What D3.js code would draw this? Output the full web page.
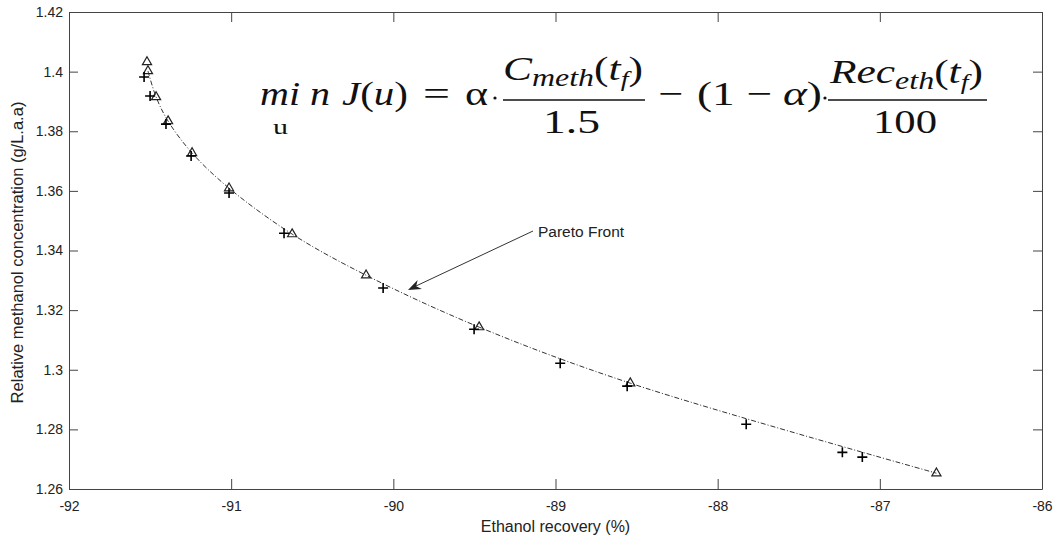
<!DOCTYPE html>
<html>
<head>
<meta charset="utf-8">
<script src="https://cdn.jsdelivr.net/npm/d3@7"></script>
<style>
  body { margin: 0; background: #fff; }
  svg { display: block; }
</style>
</head>
<body>
<svg id="chart" width="1054" height="542"></svg>
<script>
// values
const triX = [-91.519, -91.513, -91.463, -91.389, -91.241, -91.013, -90.624, -90.168, -89.471, -88.539, -86.651];
const triY = [1.4032, 1.4002, 1.3915, 1.3834, 1.3727, 1.3609, 1.3455, 1.3317, 1.3143, 1.2955, 1.2653];

const plusX = [-91.537, -91.5, -91.402, -91.247, -91.013, -90.674, -90.063, -89.502, -88.971, -88.558, -87.824, -87.231, -87.108];
const plusY = [1.3982, 1.3918, 1.3824, 1.3717, 1.3593, 1.3458, 1.3274, 1.3136, 1.3022, 1.2945, 1.2817, 1.2723, 1.2707];

// the dash-dot Pareto front as traced
const frontX = [-91.513, -91.463, -91.389, -91.241, -91.013, -90.624, -90.168, -89.471, -88.539, -86.651];
const frontY = [1.4002, 1.3915, 1.3834, 1.3727, 1.3609, 1.3455, 1.3317, 1.3143, 1.2955, 1.2653];

const xTicks = [-92, -91, -90, -89, -88, -87, -86];
const yTicks = [1.26, 1.28, 1.3, 1.32, 1.34, 1.36, 1.38, 1.4, 1.42];

const xLabel = "Ethanol recovery (%)";
const yLabel = "Relative methanol concentration (g/L.a.a)";
const noteText = "Pareto Front";

const svg = d3.select("#chart");
const mLeft = 69, mRight = 1042, mTop = 12, mBottom = 489;

const x = d3.scaleLinear().domain([-92, -86]).range([mLeft, mRight]);
const y = d3.scaleLinear().domain([1.26, 1.42]).range([mBottom, mTop]);

const axisColor = "#444";
const tickFont = "'Liberation Sans', Arial, sans-serif";

function styleAxis(g) {
  g.select(".domain").attr("stroke", axisColor).attr("stroke-width", 1);
  g.selectAll(".tick line").attr("stroke", axisColor).attr("stroke-width", 1);
  g.selectAll(".tick text")
    .attr("fill", "#222")
    .attr("font-family", tickFont)
    .attr("font-size", 14);
}

// axes, MATLAB style box with inward ticks
svg.append("g")
  .attr("transform", `translate(0,${mBottom})`)
  .call(d3.axisBottom(x).tickValues(xTicks).tickFormat((d) => String(d))
    .tickSizeInner(-10).tickSizeOuter(0).tickPadding(12))
  .call(styleAxis);

svg.append("g")
  .attr("transform", `translate(${mLeft},0)`)
  .call(d3.axisLeft(y).tickValues(yTicks).tickFormat((d) => String(+d.toFixed(2)))
    .tickSizeInner(-9).tickSizeOuter(0).tickPadding(6))
  .call(styleAxis);

svg.append("g")
  .attr("transform", `translate(0,${mTop})`)
  .call(d3.axisTop(x).tickValues(xTicks).tickFormat("")
    .tickSizeInner(-10).tickSizeOuter(0))
  .call(styleAxis);

svg.append("g")
  .attr("transform", `translate(${mRight},0)`)
  .call(d3.axisRight(y).tickValues(yTicks).tickFormat("")
    .tickSizeInner(-9).tickSizeOuter(0))
  .call(styleAxis);

// axis titles
svg.append("text")
  .attr("x", (mLeft + mRight) / 2)
  .attr("y", 532)
  .attr("text-anchor", "middle")
  .attr("font-family", tickFont)
  .attr("font-size", 16)
  .attr("fill", "#222")
  .text(xLabel);

svg.append("text")
  .attr("transform", `translate(23,${(mTop + mBottom) / 2 + 2}) rotate(-90)`)
  .attr("text-anchor", "middle")
  .attr("font-family", tickFont)
  .attr("font-size", 16.5)
  .attr("fill", "#222")
  .text(yLabel);

// front curve
const front = frontX.map((v, i) => [v, frontY[i]]);
svg.append("path")
  .datum(front)
  .attr("fill", "none")
  .attr("stroke", "#333")
  .attr("stroke-width", 1)
  .attr("stroke-dasharray", "5,2,1,2")
  .attr("d", d3.line().x((d) => x(d[0])).y((d) => y(d[1])).curve(d3.curveCatmullRom.alpha(0.5)));

// markers
const tri = triX.map((v, i) => [v, triY[i]]);
svg.append("g")
  .selectAll("path")
  .data(tri)
  .join("path")
  .attr("transform", (d) => `translate(${x(d[0])},${y(d[1])})`)
  .attr("d", d3.symbol(d3.symbolTriangle, 36))
  .attr("fill", "none")
  .attr("stroke", "#222")
  .attr("stroke-width", 1.2);

const plus = plusX.map((v, i) => [v, plusY[i]]);
svg.append("g")
  .selectAll("path")
  .data(plus)
  .join("path")
  .attr("transform", (d) => `translate(${x(d[0])},${y(d[1])})`)
  .attr("d", "M-5,0H5M0,-5V5")
  .attr("stroke", "#000")
  .attr("stroke-width", 1.6);

// annotation arrow
const ax0 = 533, ay0 = 231, ax1 = 408, ay1 = 290;
svg.append("line")
  .attr("x1", ax0).attr("y1", ay0).attr("x2", ax1 + 8).attr("y2", ay1 - 4)
  .attr("stroke", "#333").attr("stroke-width", 1);
const ang = Math.atan2(ay1 - ay0, ax1 - ax0) * 180 / Math.PI;
svg.append("path")
  .attr("transform", `translate(${ax1},${ay1}) rotate(${ang})`)
  .attr("d", "M0,0L-13,-5L-9,0L-13,5Z")
  .attr("fill", "#222");
svg.append("text")
  .attr("x", 538).attr("y", 237)
  .attr("font-family", tickFont)
  .attr("font-size", 15.5)
  .attr("fill", "#222")
  .text(noteText);

// objective formula
const serif = "'Liberation Serif', 'Times New Roman', serif";
const fcol = "#111";
const eq = svg.append("g").attr("font-family", serif).attr("fill", fcol).attr("font-size", 34);

function piece(xp, yp, w, build, size) {
  const t = eq.append("text").attr("x", xp).attr("y", yp);
  if (size) t.attr("font-size", size);
  if (w) t.attr("textLength", w).attr("lengthAdjust", "spacingAndGlyphs");
  build(t);
  return t;
}
const it = (t, s) => t.append("tspan").attr("font-style", "italic").text(s);
const up = (t, s) => t.append("tspan").text(s);

piece(260, 105, 40, (t) => it(t, "mi"));
piece(310, 105, 20, (t) => it(t, "n"));
piece(273, 134, 15, (t) => up(t, "u"), 22);
piece(342, 105, 66, (t) => { it(t, "J"); up(t, "("); it(t, "u"); up(t, ")"); });
piece(423, 105, 27, (t) => up(t, "="));
piece(465, 105, 23, (t) => up(t, "α"));
eq.append("circle").attr("cx", 495).attr("cy", 98).attr("r", 1.6);

// first fraction
eq.append("line").attr("x1", 503).attr("x2", 645).attr("y1", 100).attr("y2", 100)
  .attr("stroke", fcol).attr("stroke-width", 1.6);
piece(503, 80, 140, (t) => {
  it(t, "C");
  t.append("tspan").attr("font-style", "italic").attr("font-size", 25).attr("dy", 6).text("meth");
  t.append("tspan").attr("dy", -6).text("(");
  it(t, "t");
  t.append("tspan").attr("font-style", "italic").attr("font-size", 22).attr("dy", 6).text("f");
  t.append("tspan").attr("dy", -6).text(")");
});
piece(543, 133, 57, (t) => up(t, "1.5"));

piece(658, 105, 25, (t) => up(t, "−"));
piece(697, 105, 125, (t) => { up(t, "(1 − "); it(t, "α"); up(t, ")"); });
eq.append("circle").attr("cx", 825).attr("cy", 98).attr("r", 1.6);

// second fraction
eq.append("line").attr("x1", 828).attr("x2", 987).attr("y1", 100).attr("y2", 100)
  .attr("stroke", fcol).attr("stroke-width", 1.6);
piece(830, 83, 153, (t) => {
  it(t, "Rec");
  t.append("tspan").attr("font-style", "italic").attr("font-size", 25).attr("dy", 6).text("eth");
  t.append("tspan").attr("dy", -6).text("(");
  it(t, "t");
  t.append("tspan").attr("font-style", "italic").attr("font-size", 22).attr("dy", 6).text("f");
  t.append("tspan").attr("dy", -6).text(")");
});
piece(873, 133, 64, (t) => up(t, "100"));
</script>
</body>
</html>
